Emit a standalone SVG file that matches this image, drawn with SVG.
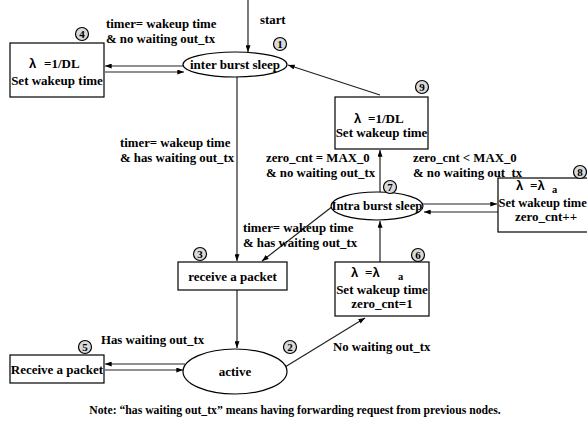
<svg xmlns="http://www.w3.org/2000/svg" width="587" height="430" viewBox="0 0 587 430">
<style>
text{font-family:"Liberation Serif","Times New Roman",serif;font-weight:bold;font-size:12.8px;fill:#000}
.c{text-anchor:middle}
.nd{font-size:13px}
.sub{font-size:10.5px}
.lam{font-family:"Liberation Sans",Arial,sans-serif;font-weight:bold}
.box{fill:#fff;stroke:#000;stroke-width:1.2}
.ell{fill:#fff;stroke:#000;stroke-width:1.2}
.num{fill:#d9d9d9;stroke:#000;stroke-width:1.2}
.nt{font-size:11px;text-anchor:middle}
.ln{stroke:#222;stroke-width:1.2;fill:none;marker-end:url(#ah)}
</style>
<defs>
<marker id="ah" viewBox="0 0 8 6" refX="8" refY="3" markerWidth="7" markerHeight="5" markerUnits="userSpaceOnUse" orient="auto">
<path d="M0,0 L8,3 L0,6 z" fill="#000"/>
</marker>
</defs>
<rect width="587" height="430" fill="#fff"/>
<g id="connectors">
<line class="ln" x1="248" y1="0" x2="248" y2="52"/>
<line class="ln" x1="183" y1="66" x2="105" y2="66"/>
<line class="ln" x1="105" y1="72" x2="184" y2="72"/>
<line class="ln" x1="237" y1="77" x2="237" y2="261"/>
<line class="ln" x1="380" y1="95" x2="288" y2="65"/>
<line class="ln" x1="380" y1="192" x2="380" y2="150"/>
<line class="ln" x1="333" y1="206" x2="262" y2="261"/>
<line class="ln" x1="423" y1="204" x2="497" y2="204"/>
<line class="ln" x1="498" y1="212" x2="424" y2="212"/>
<line class="ln" x1="380" y1="262" x2="380" y2="221"/>
<line class="ln" x1="237" y1="290" x2="237" y2="348"/>
<line class="ln" x1="185" y1="364" x2="105" y2="364"/>
<line class="ln" x1="105" y1="370" x2="183" y2="370"/>
<line class="ln" x1="285" y1="367" x2="365" y2="318"/>
</g>
<g id="labels">
<text x="260" y="24">start</text>
<text x="106" y="28">timer= wakeup time</text>
<text x="106" y="43">&amp; no waiting out_tx</text>
<text x="120" y="147">timer= wakeup time</text>
<text x="120" y="162">&amp; has waiting out_tx</text>
<text x="266" y="162">zero_cnt = MAX_0</text>
<text x="266" y="177">&amp; no waiting out_tx</text>
<text x="413" y="162">zero_cnt &lt; MAX_0</text>
<text x="413" y="176.5">&amp; no waiting out_tx</text>
<text x="243" y="232">timer= wakeup time</text>
<text x="243" y="247">&amp; has waiting out_tx</text>
<text x="101" y="344">Has waiting out_tx</text>
<text x="333" y="351">No waiting out_tx</text>
<text x="295" y="414" class="c" style="font-size:11.7px">Note: “has waiting out_tx” means having forwarding request from previous nodes.</text>
</g>
<g id="n4">
<rect class="box" x="10" y="43" width="94" height="54"/>
<text x="29" y="68" class="nd"><tspan class="lam">λ</tspan><tspan x="44">=1/DL</tspan></text>
<text x="57" y="84.5" class="c nd">Set wakeup time</text>
<circle class="num" cx="82" cy="34" r="6.5"/>
<text x="82" y="38" class="nt">4</text>
</g>
<g id="n1">
<ellipse class="ell" cx="235" cy="64.5" rx="52" ry="12.5"/>
<text x="235" y="69" class="c nd">inter burst sleep</text>
<circle class="num" cx="280" cy="44" r="6.5"/>
<text x="280" y="48" class="nt">1</text>
</g>
<g id="n9">
<rect class="box" x="335" y="97" width="93" height="52"/>
<text x="354" y="122.5" class="nd"><tspan class="lam">λ</tspan><tspan x="368">=1/DL</tspan></text>
<text x="381.5" y="137" class="c nd">Set wakeup time</text>
<circle class="num" cx="422" cy="87" r="6.5"/>
<text x="422" y="91" class="nt">9</text>
</g>
<g id="n7">
<ellipse class="ell" cx="377" cy="206" rx="46" ry="14"/>
<text x="377" y="210" class="c">Intra burst sleep</text>
<circle class="num" cx="390" cy="187" r="6.5"/>
<text x="390" y="191" class="nt">7</text>
</g>
<g id="n8">
<rect class="box" x="498" y="178" width="95" height="54"/>
<text x="516" y="190" class="nd"><tspan class="lam">λ</tspan><tspan x="530">=</tspan><tspan class="lam">λ</tspan><tspan x="552" dy="2.5" class="sub">a</tspan></text>
<text x="498.5" y="206.5" class="nd" style="font-size:12.5px">Set wakeup time</text>
<text x="546" y="221" class="c nd">zero_cnt++</text>
<circle class="num" cx="580" cy="172" r="6.5"/>
<text x="580" y="176" class="nt">8</text>
</g>
<g id="n3">
<rect class="box" x="178" y="262" width="109" height="28"/>
<text x="232.5" y="280.5" class="c nd">receive a packet</text>
<circle class="num" cx="200" cy="254" r="6.5"/>
<text x="200" y="258" class="nt">3</text>
</g>
<g id="n6">
<rect class="box" x="335" y="262" width="94" height="54"/>
<text x="351" y="277" class="nd"><tspan class="lam">λ</tspan><tspan x="365">=</tspan><tspan class="lam">λ</tspan><tspan x="398" dy="3" class="sub">a</tspan></text>
<text x="382" y="294" class="c nd">Set wakeup time</text>
<text x="382" y="308" class="c nd">zero_cnt=1</text>
<circle class="num" cx="418" cy="255" r="6.5"/>
<text x="418" y="259" class="nt">6</text>
</g>
<g id="n5">
<rect class="box" x="10" y="355" width="94" height="28"/>
<text x="57" y="373.5" class="c nd">Receive a packet</text>
<circle class="num" cx="85" cy="347" r="6.5"/>
<text x="85" y="351" class="nt">5</text>
</g>
<g id="n2">
<ellipse class="ell" cx="235" cy="371.5" rx="52" ry="22.5"/>
<text x="235" y="376" class="c nd">active</text>
<circle class="num" cx="290" cy="347" r="6.5"/>
<text x="290" y="351" class="nt">2</text>
</g>
</svg>
